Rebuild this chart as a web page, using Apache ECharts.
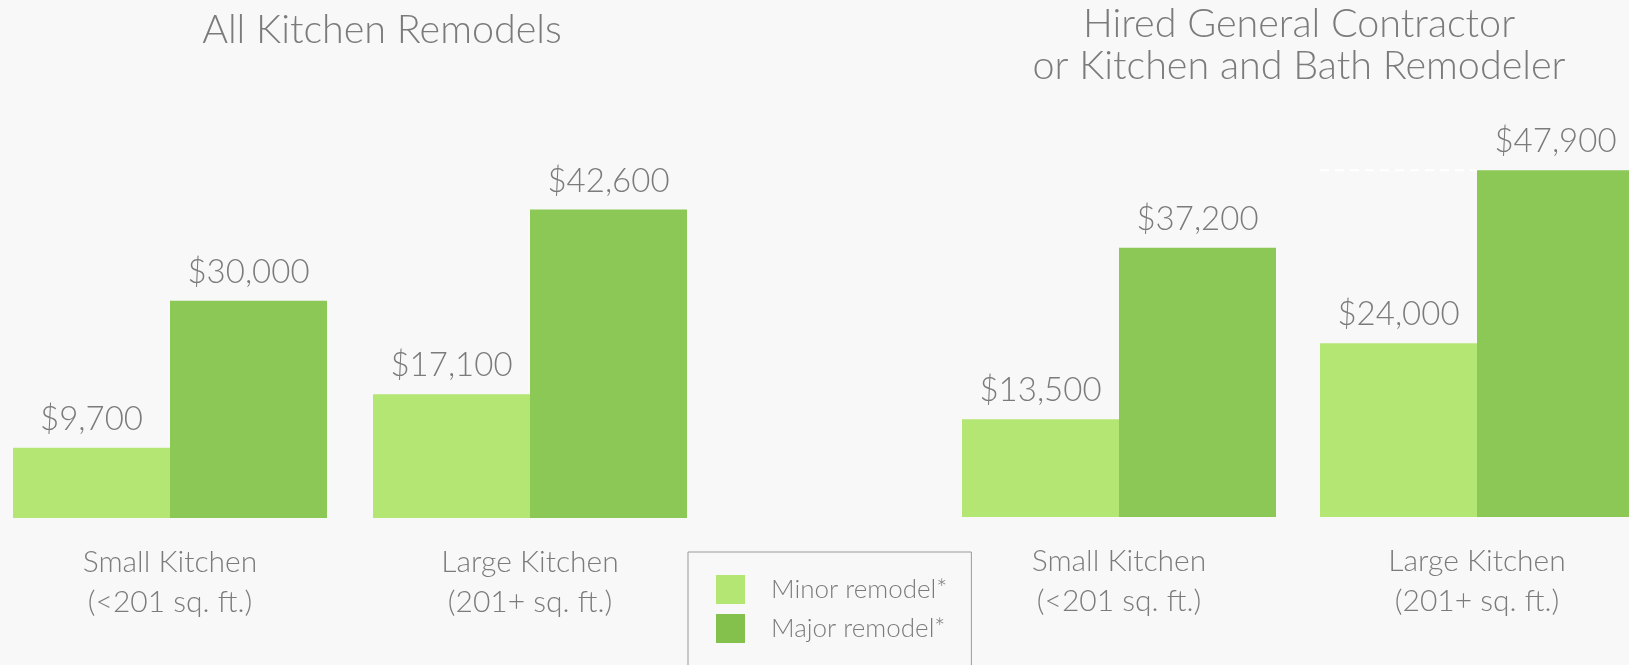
<!DOCTYPE html>
<html>
<head>
<meta charset="utf-8">
<script src="https://cdn.jsdelivr.net/npm/echarts@6/dist/echarts.min.js"></script>
<style>
  html, body { margin: 0; padding: 0; background: #f8f8f8; }
  #main { width: 1629px; height: 665px; }
</style>
</head>
<body>
<div id="main"></div>
<script>
var categories = ['Small Kitchen\n(<201 sq. ft.)', 'Large Kitchen\n(201+ sq. ft.)'];
var seriesNames = ['Minor remodel*', 'Major remodel*'];
var panelTitles = ['All Kitchen Remodels', 'Hired General Contractor\nor Kitchen and Bath Remodeler'];
var allMinor = [9700, 17100];
var allMajor = [30000, 42600];
var proMinor = [13500, 24000];
var proMajor = [37200, 47900];

var textColor = '#7b7b7b';
var fontFamily = 'Lato, "Open Sans", sans-serif';
var minorColor = '#b3e673';
var majorColor = '#8bc855';

var dom = document.getElementById('main');
var myChart = echarts.init(dom);

function money(v) {
  return '$' + echarts.format.addCommas(v);
}

var barLabel = {
  show: true,
  position: 'top',
  distance: 12,
  color: textColor,
  fontFamily: fontFamily,
  fontWeight: 300,
  fontSize: 33,
  formatter: function (p) { return money(p.value); }
};

function xAxisFor(idx) {
  return {
    type: 'category',
    gridIndex: idx,
    data: categories,
    axisLine: { show: false },
    axisTick: { show: false },
    axisLabel: {
      color: textColor,
      fontFamily: fontFamily,
      fontWeight: 300,
      fontSize: 30,
      lineHeight: 40,
      margin: 24
    }
  };
}

function yAxisFor(idx) {
  return {
    type: 'value',
    gridIndex: idx,
    min: 0,
    max: 50000,
    show: false,
    splitLine: { show: false }
  };
}

function barSeries(name, data, color, idx) {
  return {
    name: name,
    type: 'bar',
    xAxisIndex: idx,
    yAxisIndex: idx,
    data: data,
    barWidth: 157,
    barGap: '0%',
    itemStyle: { color: color },
    label: barLabel
  };
}

option = {
  backgroundColor: '#f8f8f8',
  animation: false,
  title: [{
    text: panelTitles[0],
    left: 382,
    top: 10,
    padding: 0,
    textAlign: 'center',
    textStyle: { color: textColor, fontFamily: fontFamily, fontWeight: 300, fontSize: 39.5 }
  }, {
    text: panelTitles[1],
    left: 1299,
    top: 3,
    padding: 0,
    textAlign: 'center',
    textStyle: { color: textColor, fontFamily: fontFamily, fontWeight: 300, fontSize: 39.5, lineHeight: 42 }
  }],
  legend: {
    orient: 'vertical',
    left: 688,
    top: 552,
    height: 300,
    icon: 'rect',
    itemWidth: 29,
    itemHeight: 29,
    itemGap: 10,
    padding: [23, 24, 40, 28],
    borderColor: '#9a9a9a',
    borderWidth: 1,
    textStyle: {
      color: textColor,
      fontFamily: fontFamily,
      fontWeight: 300,
      fontSize: 26,
      padding: [0, 0, 0, 21]
    },
    data: [
      { name: seriesNames[0], itemStyle: { color: minorColor } },
      { name: seriesNames[1], itemStyle: { color: '#84c04c' } }
    ]
  },
  grid: [
    { left: -10, width: 720, top: 156, height: 362, outerBoundsMode: 'none' },
    { left: 940, width: 716, top: 155, height: 362, outerBoundsMode: 'none' }
  ],
  xAxis: [xAxisFor(0), xAxisFor(1)],
  yAxis: [yAxisFor(0), yAxisFor(1)],
  series: [
    barSeries(seriesNames[0], allMinor, minorColor, 0),
    barSeries(seriesNames[1], allMajor, majorColor, 0),
    barSeries(seriesNames[0], proMinor, minorColor, 1),
    barSeries(seriesNames[1], proMajor, majorColor, 1)
  ]
};

if (option && typeof option === 'object') {
  myChart.setOption(option, true);
}

// white dashed guide at the top of the largest bar, across the minor bar beside it
var lay = myChart.getModel().getSeriesByIndex(2).getData().getItemLayout(1);
var topY = myChart.convertToPixel({ yAxisIndex: 1 }, proMajor[1]);
myChart.setOption({
  graphic: [{
    type: 'line',
    shape: { x1: lay.x, y1: topY, x2: lay.x + lay.width, y2: topY },
    style: { stroke: '#ffffff', lineWidth: 2, lineDash: [9, 6] },
    z: 10
  }]
});
</script>
</body>
</html>
